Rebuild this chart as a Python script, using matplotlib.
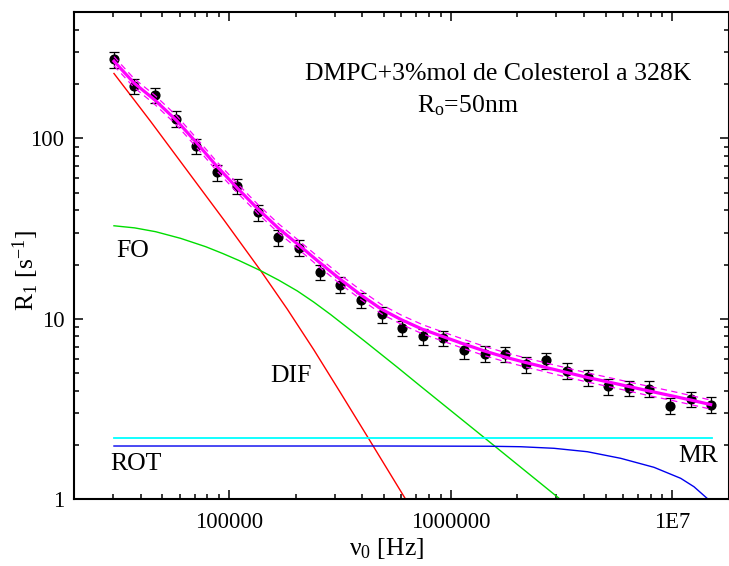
import matplotlib
matplotlib.use('Agg')
import matplotlib.pyplot as plt
from matplotlib.ticker import LogLocator, NullFormatter

plt.rcParams['font.family'] = ['Liberation Serif', 'DejaVu Serif']
plt.rcParams['mathtext.fontset'] = 'custom'
plt.rcParams['mathtext.rm'] = 'Liberation Serif'
plt.rcParams['mathtext.it'] = 'Liberation Serif:italic'

# ---- measured data ----
freq = [30290, 37270, 46380, 57890, 71000, 88000, 109100, 135100, 167000, 206900,
        256500, 318000, 393900, 488500, 603100, 747400, 927100, 1148000, 1424000, 1758000,
        2179000, 2702000, 3346000, 4150000, 5133000, 6353000, 7876000, 9775000, 12090000, 14880000]
r1 = [274, 195, 174, 128, 90.6, 64.8, 54.4, 38.9, 28.3, 24.8,
      18.2, 15.5, 12.7, 10.6, 8.89, 8.0, 7.81, 6.70, 6.42, 6.38,
      5.60, 5.89, 5.17, 4.75, 4.22, 4.14, 4.10, 3.30, 3.59, 3.34]
r1_err = [27, 19, 17, 13, 9.0, 6.5, 5.4, 3.9, 2.8, 2.5,
          1.8, 1.55, 1.27, 1.06, 0.89, 0.80, 0.78, 0.67, 0.64, 0.64,
          0.56, 0.59, 0.52, 0.48, 0.42, 0.41, 0.41, 0.33, 0.36, 0.33]

# ---- total fit and its confidence band ----
fit_total = [268, 203, 163, 126, 95.4, 70.2, 53.0, 40.6, 31.8, 25.6,
             20.5, 16.55, 13.55, 11.29, 9.85, 8.75, 7.96, 7.25, 6.63, 6.14,
             5.73, 5.37, 5.04, 4.73, 4.47, 4.22, 3.98, 3.76, 3.55, 3.35]
fit_upper = [284, 215, 173, 134, 101, 74.4, 56.2, 43.0, 33.7, 27.1,
             21.7, 17.5, 14.4, 11.97, 10.44, 9.28, 8.44, 7.69, 7.03, 6.51,
             6.07, 5.69, 5.34, 5.01, 4.74, 4.47, 4.22, 3.99, 3.76, 3.55]
fit_lower = [253, 192, 154, 119, 90.0, 66.2, 50.0, 38.3, 30.0, 24.2,
             19.3, 15.6, 12.8, 10.65, 9.29, 8.25, 7.51, 6.84, 6.25, 5.79,
             5.41, 5.07, 4.75, 4.46, 4.22, 3.98, 3.75, 3.55, 3.35, 3.16]

# ---- model components ----
dif_x = [30290, 44350, 64930, 94930, 139000, 183400, 241700, 319000, 423600, 626600]
dif_y = [229, 124.1, 66.1, 35.3, 18.5, 11.30, 6.72, 3.88, 2.20, 1.0]

fo_x = [30290, 37550, 46710, 60560, 78510, 93670, 110950, 139000, 167600, 203500,
        241100, 287600, 406200, 574900, 732100, 1365000, 2069000, 3134000]
fo_y = [32.8, 31.93, 30.41, 27.93, 25.12, 23.03, 21.06, 18.49, 16.39, 14.27,
        12.39, 10.56, 7.58, 5.39, 4.23, 2.28, 1.506, 0.996]

rot_x = [30290, 15040000]
rot_y = [2.18, 2.18]

mr_x = [30290, 500000, 1500000, 2069000, 2924000, 4136000, 5846000, 8260000, 10900000, 12510000, 14500000]
mr_y = [1.974, 1.974, 1.968, 1.956, 1.917, 1.835, 1.687, 1.504, 1.307, 1.174, 1.0]

xtick_vals = [1e5, 1e6, 1e7]
xtick_labels = ['100000', '1000000', '1E7']
ytick_vals = [1, 10, 100]
ytick_labels = ['1', '10', '100']

fig = plt.figure(figsize=(7.29, 5.66), dpi=100)
ax = fig.add_axes([74 / 729, (566 - 499.3) / 566, (729 - 74) / 729, (499.3 - 12.3) / 566])
ax.set_xscale('log')
ax.set_yscale('log')
ax.set_xlim(2e4, 1.8e7)
ax.set_ylim(1, 500)

ax.plot(dif_x, dif_y, color='#ff0000', lw=1.0, zorder=2)
ax.plot(fo_x, fo_y, color='#00dd00', lw=1.0, zorder=2)
ax.plot(rot_x, rot_y, color='#00ffff', lw=1.3, zorder=2)
ax.plot(mr_x, mr_y, color='#0000ee', lw=1.0, zorder=2)

ax.errorbar(freq, r1, yerr=r1_err, fmt='o', color='black', ms=6.3, capsize=3.5,
            elinewidth=0.9, capthick=0.9, zorder=3)

ax.plot(freq, fit_total, color='#ff00ff', lw=2.3, zorder=4)
ax.plot(freq, fit_upper, color='#ff00ff', lw=0.9, ls=(0, (5, 3.5)), zorder=4)
ax.plot(freq, fit_lower, color='#ff00ff', lw=0.9, ls=(0, (5, 3.5)), zorder=4)

ax.set_xticks(xtick_vals)
ax.set_xticklabels(xtick_labels)
ax.set_yticks(ytick_vals)
ax.set_yticklabels(ytick_labels)
ax.xaxis.set_minor_locator(LogLocator(base=10, subs=range(2, 10), numticks=20))
ax.yaxis.set_minor_locator(LogLocator(base=10, subs=range(2, 10), numticks=20))
ax.xaxis.set_minor_formatter(NullFormatter())
ax.yaxis.set_minor_formatter(NullFormatter())
ax.tick_params(which='both', direction='in', top=True, right=True, labelsize=16.3, width=1.1)
ax.tick_params(which='major', length=6.5)
ax.tick_params(which='minor', length=3.5)
ax.tick_params(axis='x', which='major', pad=9)
ax.tick_params(axis='y', which='major', pad=7)
for s in ax.spines.values():
    s.set_linewidth(1.5)

ax.set_xlabel('ν$_0$ [Hz]', fontsize=18.5)
ax.xaxis.set_label_coords(0.477, -0.075)
ax.set_ylabel('R$_1$ [s$^{-1}$]', fontsize=18.5)
ax.yaxis.set_label_coords(-0.05, 0.47)

def ftxt(px, py, s, **kw):
    fig.text(px / 729, 1 - py / 566, s, fontsize=18.5, va='baseline', ha='left', **kw)

ftxt(305, 80, 'DMPC+3%mol de Colesterol a 328K')
ftxt(417, 112, 'R$_\\mathrm{o}$=50nm')
ftxt(116, 257, 'FO')
ftxt(270, 382, 'DIF')
ftxt(110.7, 470, 'ROT')
ftxt(678, 461.7, 'MR')

fig.savefig('out.png', dpi=100)
